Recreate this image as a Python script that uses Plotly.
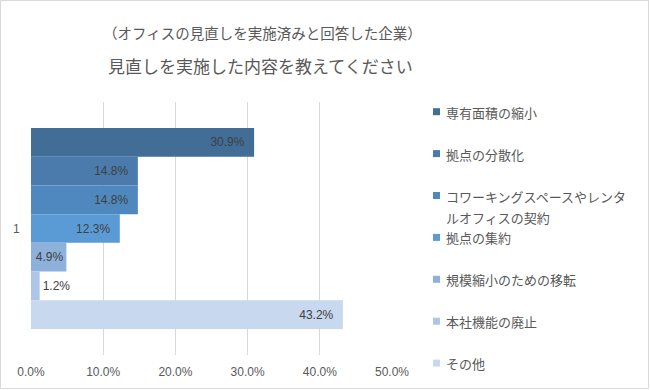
import plotly.graph_objects as go

# ---- data ----
categories = ["専有面積の縮小", "拠点の分散化", "コワーキングスペースやレンタルオフィスの契約",
              "拠点の集約", "規模縮小のための移転", "本社機能の廃止", "その他"]
values = [30.9, 14.8, 14.8, 12.3, 4.9, 1.2, 43.2]
colors = ["#426D97", "#4A7BAC", "#4F88BF", "#5B9BD5", "#8EB1DC", "#ADC6E7", "#C8D8EE"]
group_label = ["1"]
x_ticks = [0, 10, 20, 30, 40, 50]
title_line1 = "（オフィスの見直しを実施済みと回答した企業）"
title_line2 = "見直しを実施した内容を教えてください"

W, H = 650, 390
L, R, T, B = 31, 258, 102, 35
PW, PH = W - L - R, H - T - B

FONT = "Noto Sans CJK JP, Noto Sans, sans-serif"
NUMFONT = "Liberation Sans, Arial, sans-serif"
GRAY = "#595959"

fig = go.Figure()
for name, v, c in zip(categories, values, colors):
    pos = "outside" if v < 3 else "inside"
    label = f"{v:.1f}%" + ("\u00a0\u00a0" if v >= 10 else "")
    fig.add_trace(go.Bar(
        y=group_label, x=[v], name=name, orientation="h",
        marker=dict(color=c, line=dict(width=0)),
        text=[label], textposition=pos, insidetextanchor="end",
        textfont=dict(family=NUMFONT, size=12, color="#404040"),
        outsidetextfont=dict(family=NUMFONT, size=12, color="#404040"),
        cliponaxis=False, showlegend=False,
    ))

def px_to_paper_x(px):
    return (px - L) / PW

def px_to_paper_y(py):
    return (H - B - py) / PH

annotations = [
    dict(text=title_line1, x=px_to_paper_x(262), y=px_to_paper_y(32), xref="paper", yref="paper",
         showarrow=False, xanchor="center", yanchor="middle",
         font=dict(family=FONT, size=14.5, color=GRAY)),
    dict(text=title_line2, x=px_to_paper_x(260), y=px_to_paper_y(66), xref="paper", yref="paper",
         showarrow=False, xanchor="center", yanchor="middle",
         font=dict(family=FONT, size=17, color=GRAY)),
]
shapes = []

# manual legend
wrap = 14
for i, (name, c) in enumerate(zip(categories, colors)):
    yc = 111.7 + i * 41.9
    shapes.append(dict(type="rect", xref="paper", yref="paper",
                       x0=px_to_paper_x(433), x1=px_to_paper_x(440),
                       y0=px_to_paper_y(yc + 3.5), y1=px_to_paper_y(yc - 3.5),
                       fillcolor=c, line=dict(width=0)))
    lines = [name[k:k + wrap] for k in range(0, len(name), wrap)]
    for j, ln in enumerate(lines):
        annotations.append(dict(text=ln, x=px_to_paper_x(444), y=px_to_paper_y(yc + j * 21 + 0.5),
                                xref="paper", yref="paper", showarrow=False,
                                xanchor="left", yanchor="middle",
                                font=dict(family=FONT, size=13, color=GRAY)))

# outer border
shapes.append(dict(type="rect", xref="paper", yref="paper",
                   x0=px_to_paper_x(0.5), x1=px_to_paper_x(648.5),
                   y0=px_to_paper_y(388.5), y1=px_to_paper_y(0.5),
                   line=dict(color="#D9D9D9", width=1), fillcolor="rgba(0,0,0,0)", layer="below"))

fig.update_layout(
    width=W, height=H, margin=dict(l=L, r=R, t=T, b=B, pad=0, autoexpand=False),
    paper_bgcolor="white", plot_bgcolor="white",
    barmode="group", bargap=0.206, bargroupgap=0,
    showlegend=False,
    uniformtext=dict(minsize=12, mode="show"),
    annotations=annotations, shapes=shapes,
    xaxis=dict(range=[0, 50], tickvals=x_ticks, ticktext=[f"{t:.1f}%" for t in x_ticks],
               showgrid=True, gridcolor="#D9D9D9", gridwidth=1, zeroline=False,
               showline=False, ticks="outside", ticklen=6, tickcolor="rgba(0,0,0,0)",
               tickfont=dict(family=NUMFONT, size=12, color=GRAY), fixedrange=True,
               automargin=False),
    yaxis=dict(autorange="reversed", type="category", showgrid=False, zeroline=False,
               showline=False, ticks="outside", ticklen=8, tickcolor="rgba(0,0,0,0)",
               tickfont=dict(family=NUMFONT, size=12, color=GRAY), fixedrange=True,
               automargin=False),
)

fig.write_html("out.html", config={"displayModeBar": False},
               post_script="document.body.style.margin='0';document.body.style.padding='0';")
